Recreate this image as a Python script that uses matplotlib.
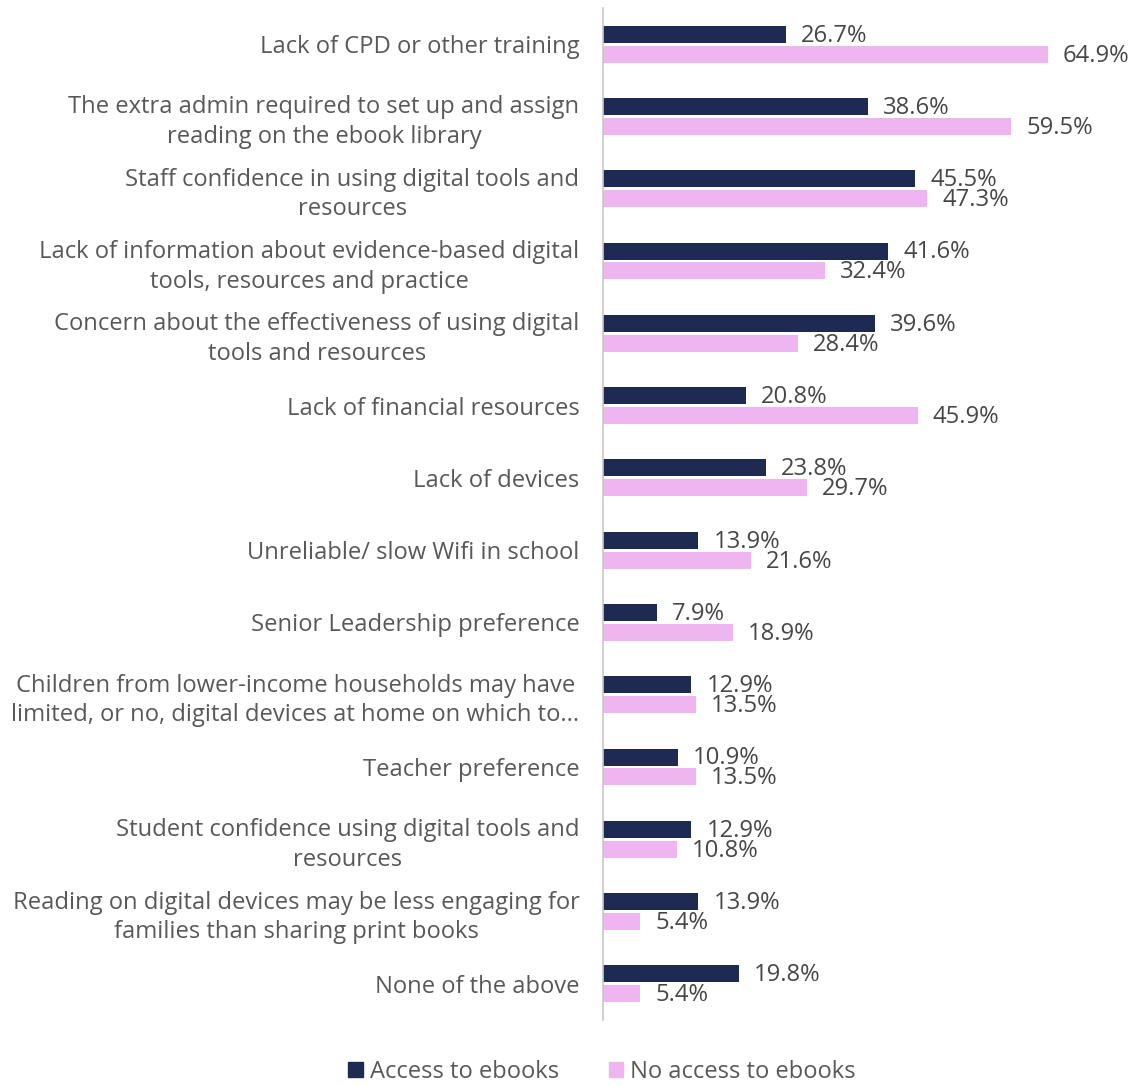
import matplotlib
matplotlib.use("Agg")
import matplotlib.pyplot as plt
import numpy as np
from matplotlib.patches import Patch

categories = [
    "Lack of CPD or other training",
    "The extra admin required to set up and assign\nreading on the ebook library",
    "Staff confidence in using digital tools and\nresources",
    "Lack of information about evidence-based digital\ntools, resources and practice",
    "Concern about the effectiveness of using digital\ntools and resources",
    "Lack of financial resources",
    "Lack of devices",
    "Unreliable/ slow Wifi in school",
    "Senior Leadership preference",
    "Children from lower-income households may have\nlimited, or no, digital devices at home on which to...",
    "Teacher preference",
    "Student confidence using digital tools and\nresources",
    "Reading on digital devices may be less engaging for\nfamilies than sharing print books",
    "None of the above",
]
access = [26.7, 38.6, 45.5, 41.6, 39.6, 20.8, 23.8, 13.9, 7.9, 12.9, 10.9, 12.9, 13.9, 19.8]
no_access = [64.9, 59.5, 47.3, 32.4, 28.4, 45.9, 29.7, 21.6, 18.9, 13.5, 13.5, 10.8, 5.4, 5.4]
series_names = ["Access to ebooks", "No access to ebooks"]

navy = "#1F2A52"
pink = "#EEB5F0"
text_col = "#595959"
value_col = "#474747"
fs = 17.1
plt.rcParams["font.family"] = ["Open Sans", "DejaVu Sans"]

fig = plt.figure(figsize=(11.36, 10.86), dpi=100)
ax = fig.add_axes([603 / 1136, 1 - 1020 / 1086, (1120 - 603) / 1136, (1020 - 8) / 1086])

y = np.arange(len(categories))
h = 0.235
off = 0.138
ax.barh(y - off, access, height=h, color=navy)
ax.barh(y + off, no_access, height=h, color=pink)

for yi, v in zip(y, access):
    ax.text(v + 2.2, yi - off + 0.02, f"{v:.1f}%", va="center", ha="left", fontsize=fs, color=value_col)
for yi, v in zip(y, no_access):
    ax.text(v + 2.2, yi + off + 0.02, f"{v:.1f}%", va="center", ha="left", fontsize=fs, color=value_col)

ax.set_xlim(0, (1120 - 603) / 6.857)
ax.set_ylim(len(categories) - 0.5, -0.5)
ax.set_yticks(y)
ax.set_yticklabels(categories, fontsize=fs, color=text_col, multialignment="center", linespacing=1.32)
ax.tick_params(axis="y", length=0, pad=17)
ax.set_xticks([])
for s in ["top", "right", "bottom"]:
    ax.spines[s].set_visible(False)
ax.spines["left"].set_color("#C8C8C8")
ax.spines["left"].set_linewidth(1.2)

handles = [Patch(color=navy), Patch(color=pink)]
fig.legend(handles, series_names, loc="center", bbox_to_anchor=(602 / 1136, 1 - 1072 / 1086),
           ncol=2, frameon=False, fontsize=fs, handlelength=0.6, handleheight=0.6,
           handletextpad=0.3, columnspacing=2.1, labelcolor=text_col)

fig.savefig("out.png", dpi=100)
